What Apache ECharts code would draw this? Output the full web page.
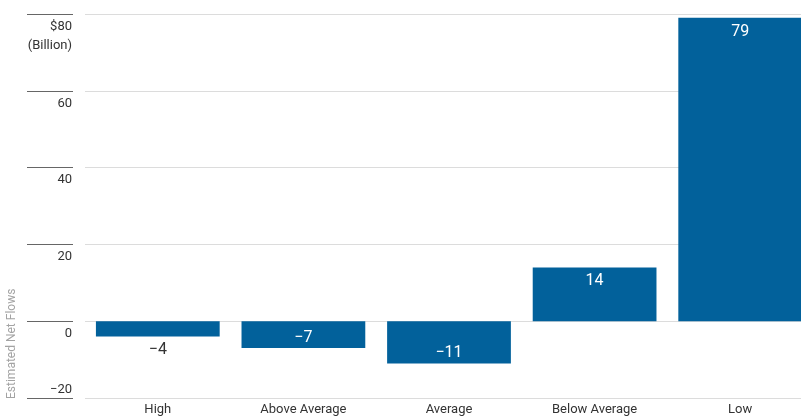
<!DOCTYPE html>
<html>
<head>
<meta charset="utf-8">
<script src="https://cdn.jsdelivr.net/npm/echarts@6/dist/echarts.min.js"></script>
<style>
  html, body { margin: 0; padding: 0; background: #fff; overflow: hidden; }
  /* the plot runs slightly past the right edge of the page */
  #chart { width: 813px; height: 417px; }
</style>
</head>
<body>
<div id="chart"></div>
<script>
// Estimated net flows by rating group, in billions of dollars
const categories = ['High', 'Above Average', 'Average', 'Below Average', 'Low'];
const netFlows = [-4, -7, -11, 14, 79];
const yTicks = { min: -20, max: 80, step: 20 };

const FONT = "Roboto, 'Liberation Sans', sans-serif";
const BAR = '#02619b';

const fmt = v => (v < 0 ? '\u2212' + Math.abs(v) : String(v));

// Labels sit inside the bar at its end; very short bars get the label outside.
const barData = netFlows.map(v => {
  const small = Math.abs(v) < 6;
  let position;
  if (small) position = v < 0 ? 'bottom' : 'top';
  else position = v < 0 ? 'insideBottom' : 'insideTop';
  return {
    value: v,
    label: {
      position,
      color: small ? '#333' : '#fff',
      distance: small ? 5 : (v < 0 ? 2 : 6)
    }
  };
});

const valueAxisBase = {
  type: 'value',
  min: yTicks.min,
  max: yTicks.max,
  interval: yTicks.step,
  offset: 12,
  position: 'left',
  axisLine: { show: false }
};

const chart = echarts.init(document.getElementById('chart'), null, { renderer: 'canvas' });
chart.setOption({
  animation: false,
  backgroundColor: '#fff',
  grid: { left: 85, right: 0, top: 14, height: 384, containLabel: false },
  xAxis: {
    type: 'category',
    data: categories,
    axisLine: { show: false },
    axisTick: { show: false },
    axisLabel: { color: '#333', fontFamily: FONT, fontSize: 13, margin: 5 }
  },
  yAxis: [
    Object.assign({}, valueAxisBase, {
      axisTick: { show: true, length: 46, lineStyle: { color: '#666', width: 1.2 } },
      splitLine: { show: true, lineStyle: { color: '#dcdcdc', width: 1 } },
      axisLabel: {
        color: '#333',
        fontFamily: FONT,
        fontSize: 13,
        margin: 1,
        verticalAlign: 'top',
        lineHeight: 19,
        padding: [3, 0, 0, 0],
        // the lowest tick is labelled above its line by the second axis
        formatter: v => {
          if (v === yTicks.min) return '';
          return v === yTicks.max ? '$' + fmt(v) + '\n(Billion)' : fmt(v);
        }
      }
    }),
    Object.assign({}, valueAxisBase, {
      axisTick: { show: false },
      splitLine: { show: false },
      axisLabel: {
        color: '#333',
        fontFamily: FONT,
        fontSize: 13,
        margin: 1,
        verticalAlign: 'bottom',
        padding: [0, 0, 2, 0],
        formatter: v => (v === yTicks.min ? fmt(v) : '')
      }
    })
  ],
  graphic: [{
    type: 'text',
    left: 6,
    bottom: 18,
    rotation: Math.PI / 2,
    style: {
      text: 'Estimated Net Flows',
      fill: '#a3a3a3',
      font: "12px " + FONT
    }
  }],
  series: [{
    type: 'bar',
    data: barData,
    barCategoryGap: '15%',
    itemStyle: { color: BAR },
    label: {
      show: true,
      fontFamily: FONT,
      fontSize: 16,
      formatter: p => fmt(p.value)
    }
  }]
});
</script>
</body>
</html>
